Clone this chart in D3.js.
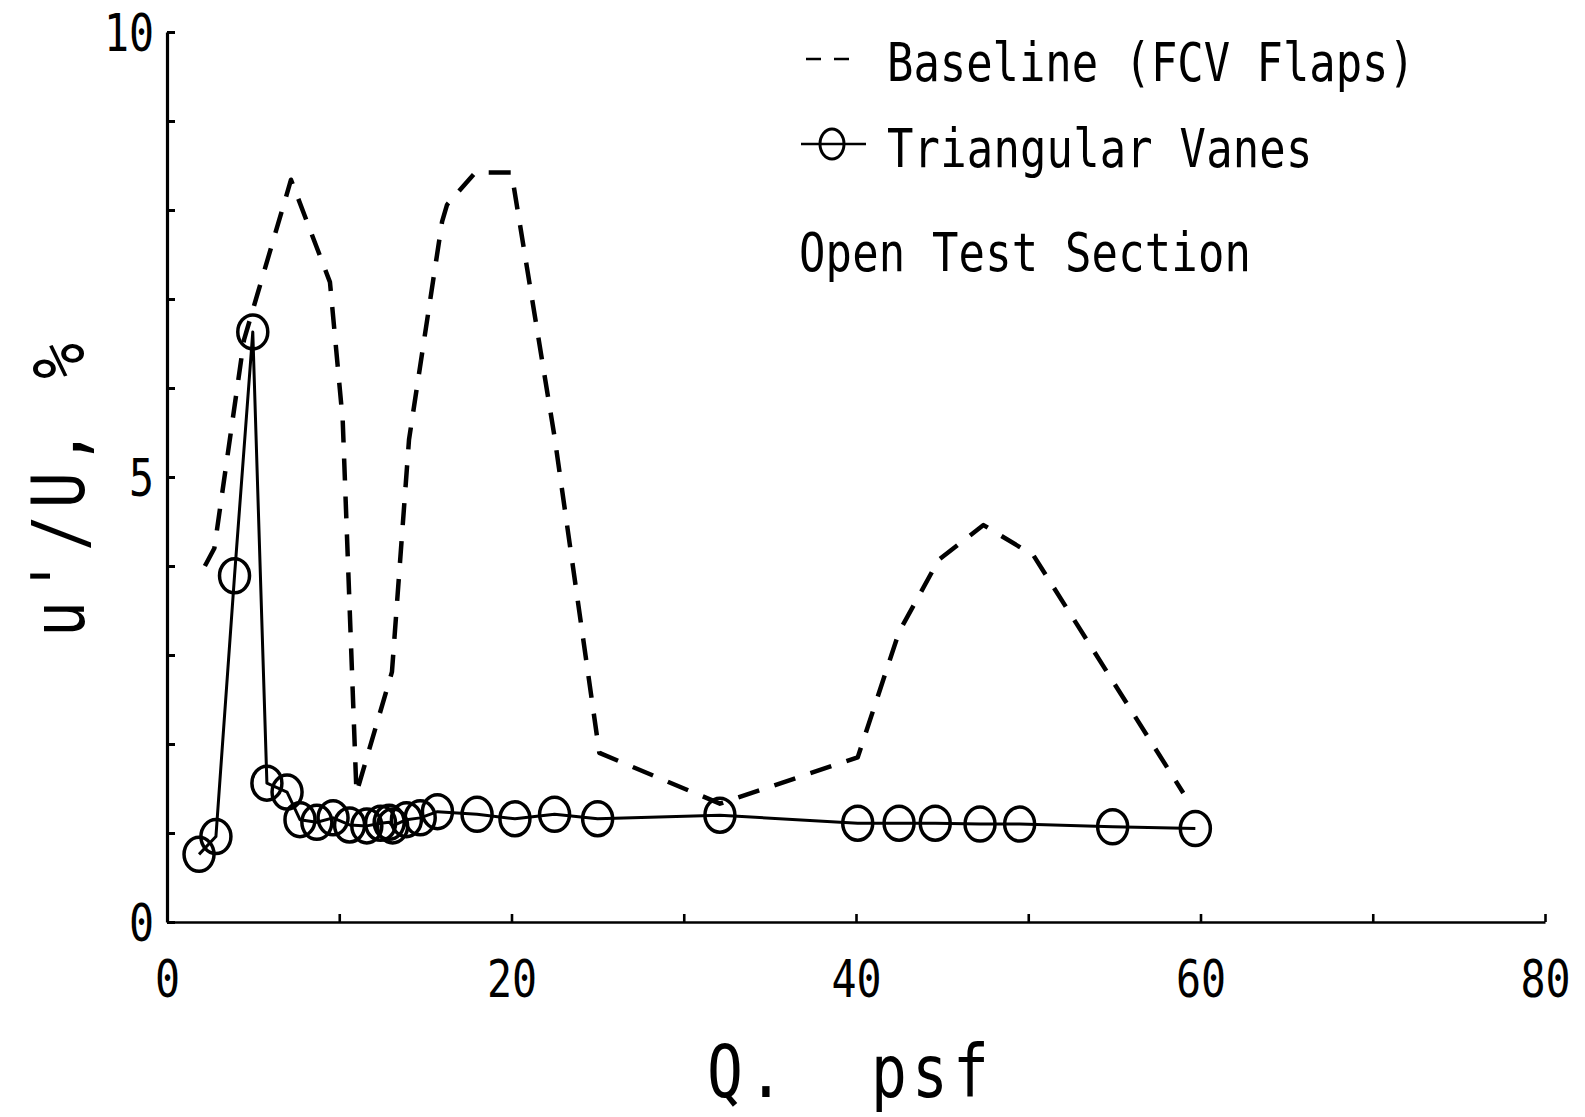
<!DOCTYPE html>
<html>
<head>
<meta charset="utf-8">
<script src="https://cdn.jsdelivr.net/npm/d3@7"></script>
<style>
  html, body { margin: 0; padding: 0; background: #fff; }
  svg { display: block; }
  text { white-space: pre; }
</style>
</head>
<body>
<svg id="chart" width="1585" height="1117"></svg>
<script>
// Turbulence intensity u'/U (%) versus dynamic pressure Q (psf)

// Baseline (FCV flaps) curve, drawn dashed
const baselineQ = [2.2, 2.75, 4.47, 7.2, 9.46, 10.2, 11.0, 13.06, 14.05, 15.97, 16.26, 17.9, 20.0, 22.5, 25.1, 32.1, 40.1, 42.5, 44.8, 47.4, 50.3, 59.0];
const baselineU = [4.0, 4.2, 6.54, 8.34, 7.19, 5.64, 1.45, 2.81, 5.42, 7.87, 8.06, 8.42, 8.42, 5.45, 1.9, 1.33, 1.85, 3.26, 4.07, 4.46, 4.12, 1.45];

// Triangular vanes, solid line with open circles
const vanesQ = [1.86, 2.84, 3.92, 4.98, 5.8, 6.97, 7.72, 8.7, 9.64, 10.6, 11.6, 12.4, 12.9, 13.1, 13.9, 14.7, 15.7, 18.0, 20.2, 22.5, 25.0, 32.1, 40.1, 42.5, 44.6, 47.2, 49.5, 54.9, 59.7];
const vanesU = [0.76, 0.96, 3.89, 6.63, 1.56, 1.46, 1.15, 1.12, 1.17, 1.09, 1.08, 1.11, 1.12, 1.08, 1.15, 1.17, 1.24, 1.21, 1.16, 1.21, 1.16, 1.20, 1.11, 1.11, 1.11, 1.10, 1.10, 1.07, 1.05];

// Axis ticks and labels
const xTicks = [0, 10, 20, 30, 40, 50, 60, 70, 80];
const xTickLabels = ["0", "", "20", "", "40", "", "60", "", "80"];
const yTicks = [0, 1, 2, 3, 4, 5, 6, 7, 8, 9, 10];
const yTickLabels = ["0", "", "", "", "", "5", "", "", "", "", "10"];

// Texts
const xTitle = "Q.  psf";
const yTitle = "u'/U, %";
const legendBaseline = "Baseline (FCV Flaps)";
const legendVanes = "Triangular Vanes";
const noteText = "Open Test Section";

const svg = d3.select("#chart");
svg.append("rect").attr("width", 1585).attr("height", 1117).attr("fill", "#fff");

const x = d3.scaleLinear().domain([0, 80]).range([167, 1545]);
const y = d3.scaleLinear().domain([0, 10]).range([922, 32]);

const FONT = "'DejaVu Sans Mono', 'Liberation Mono', monospace";
const SX = 0.82; // horizontal squeeze for the narrow plotter lettering

// Narrow monospaced lettering: cap height and character advance in px
function plotterText(parent, str, px, py, capH, adv, rot) {
  const fs = capH / 0.729;
  const ls = adv / SX - 0.602 * fs;
  const g = parent.append("g")
    .attr("transform", `translate(${px},${py}) rotate(${rot || 0}) scale(${SX},1)`);
  g.append("text")
    .attr("xml:space", "preserve")
    .attr("font-family", FONT)
    .attr("font-size", fs)
    .attr("letter-spacing", ls)
    .attr("fill", "#000")
    .text(str);
  return g;
}

// Axes
const tickFs = 37 / 0.729;
const xAxis = d3.axisBottom(x)
  .tickValues(xTicks)
  .tickFormat((d, i) => xTickLabels[i])
  .tickSizeInner(-8)
  .tickSizeOuter(0)
  .tickPadding(0);
const yAxis = d3.axisLeft(y)
  .tickValues(yTicks)
  .tickFormat((d, i) => yTickLabels[i])
  .tickSizeInner(-8)
  .tickSizeOuter(0)
  .tickPadding(0);

const gx = svg.append("g").attr("transform", `translate(0,${y(0)})`).call(xAxis);
const gy = svg.append("g").attr("transform", `translate(${x(0)},0)`).call(yAxis);

[gx, gy].forEach(g => {
  g.select(".domain").attr("stroke", "#000");
  g.selectAll(".tick line").attr("stroke", "#000");
  g.selectAll("text")
    .attr("font-family", FONT)
    .attr("font-size", tickFs)
    .attr("fill", "#000")
    .attr("transform", `scale(${SX},1)`);
});
gx.select(".domain").attr("stroke-width", 2.6);
gx.selectAll(".tick line").attr("stroke-width", 2.6);
gy.select(".domain").attr("stroke-width", 3.2);
gy.selectAll(".tick line").attr("stroke-width", 3);
gx.selectAll("text").attr("y", 75).attr("dy", 0).attr("text-anchor", "middle");
gy.selectAll("text").attr("x", -13 / SX).attr("dy", "0.36em").attr("text-anchor", "end");

// Axis titles
plotterText(svg, xTitle, 707, 1097, 53, 41, 0);
plotterText(svg, yTitle, 84, 637, 53, 43, -90);

// Baseline dashed curve
const baselineData = baselineQ.map((q, i) => [q, baselineU[i]]);
const line = d3.line().x(d => x(d[0])).y(d => y(d[1]));
svg.append("path")
  .datum(baselineData)
  .attr("d", line)
  .attr("fill", "none")
  .attr("stroke", "#000")
  .attr("stroke-width", 4.5)
  .attr("stroke-dasharray", "22,16")
  .attr("stroke-linejoin", "round");

// Triangular vanes
const vanesData = vanesQ.map((q, i) => [q, vanesU[i]]);
svg.append("path")
  .datum(vanesData)
  .attr("d", line)
  .attr("fill", "none")
  .attr("stroke", "#000")
  .attr("stroke-width", 3)
  .attr("stroke-linejoin", "round");
svg.append("g").selectAll("ellipse")
  .data(vanesData)
  .join("ellipse")
  .attr("cx", d => x(d[0]))
  .attr("cy", d => y(d[1]))
  .attr("rx", 15)
  .attr("ry", 17)
  .attr("fill", "none")
  .attr("stroke", "#000")
  .attr("stroke-width", 3.5);

// Legend
const lg = svg.append("g");
lg.append("line")
  .attr("x1", 806).attr("x2", 855).attr("y1", 59).attr("y2", 59)
  .attr("stroke", "#000").attr("stroke-width", 2.5)
  .attr("stroke-dasharray", "15,13");
plotterText(lg, legendBaseline, 887, 81, 39, 26.4, 0);

lg.append("line")
  .attr("x1", 801).attr("x2", 866).attr("y1", 144).attr("y2", 144)
  .attr("stroke", "#000").attr("stroke-width", 2.5);
lg.append("ellipse")
  .attr("cx", 832).attr("cy", 144).attr("rx", 12).attr("ry", 15)
  .attr("fill", "none").attr("stroke", "#000").attr("stroke-width", 3);
plotterText(lg, legendVanes, 887, 167, 39, 26.6, 0);

plotterText(lg, noteText, 799, 271, 39, 26.6, 0);
</script>
</body>
</html>
